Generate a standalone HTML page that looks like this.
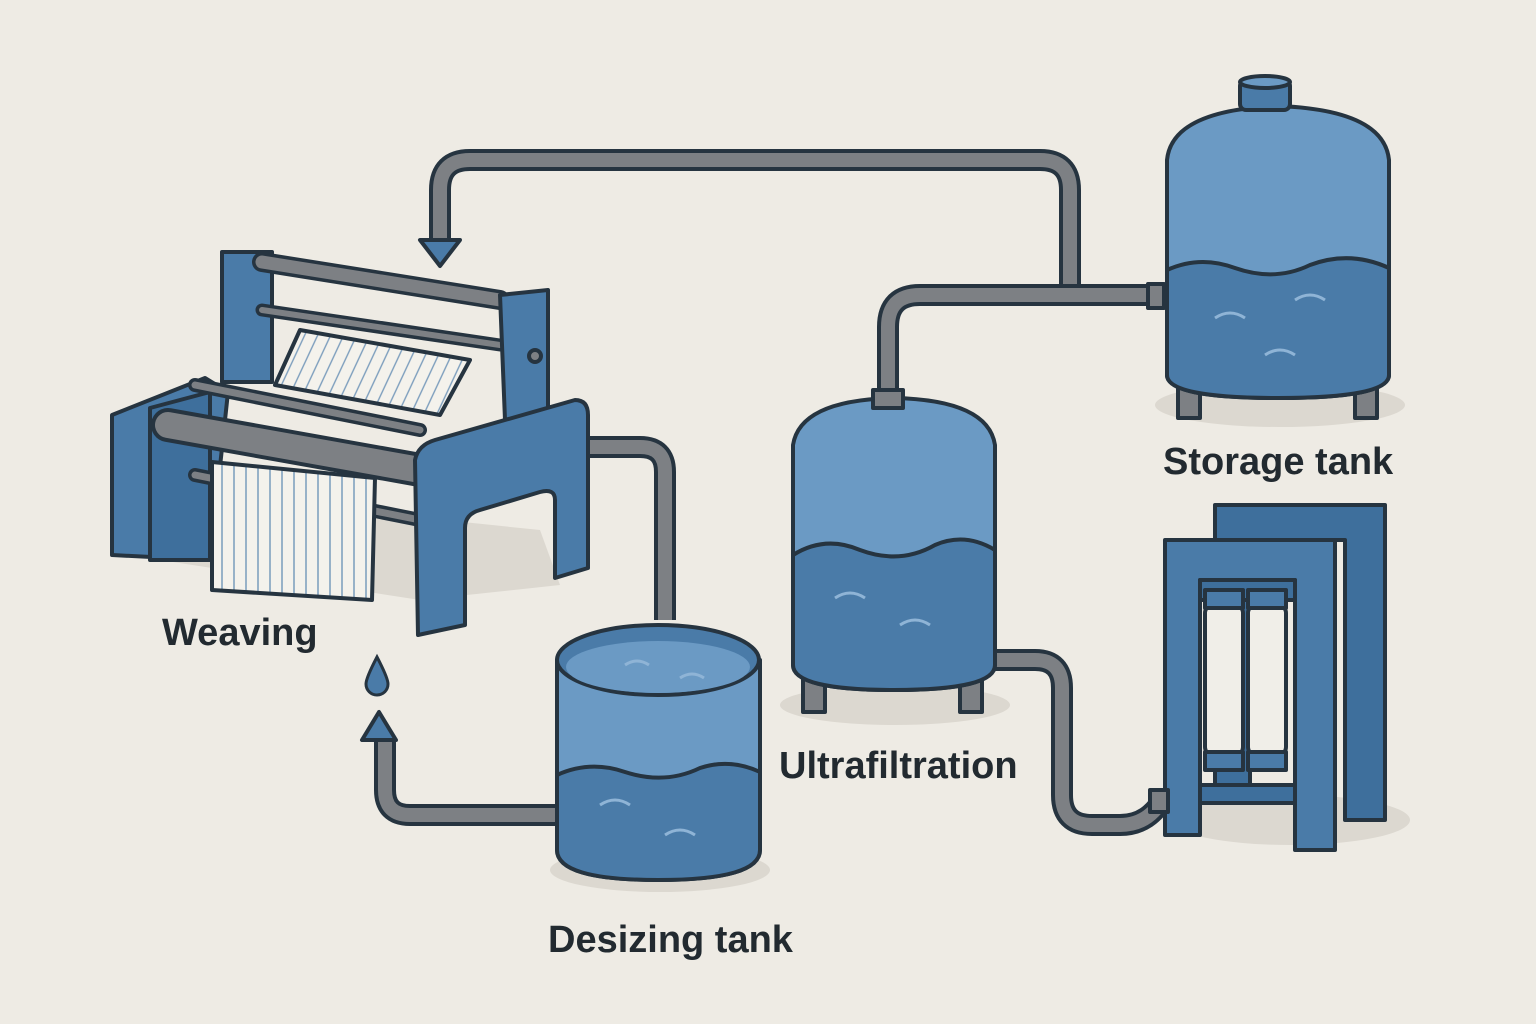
<!DOCTYPE html>
<html><head><meta charset="utf-8"><style>
html,body{margin:0;padding:0;background:#eeebe4;}
svg{display:block}
text{font-family:"Liberation Sans",sans-serif;font-weight:bold;fill:#222a30;}
</style></head><body>
<svg width="1536" height="1024" viewBox="0 0 1536 1024" xmlns="http://www.w3.org/2000/svg">
<defs>
<pattern id="stripes" width="12" height="10" patternUnits="userSpaceOnUse">
<rect width="12" height="10" fill="#f4f2ec"/><line x1="6" y1="0" x2="6" y2="10" stroke="#7a9cbc" stroke-width="1.5"/>
</pattern>
<pattern id="stripes2" width="13" height="10" patternUnits="userSpaceOnUse" patternTransform="skewX(-25)">
<rect width="13" height="10" fill="#f4f2ec"/><line x1="6" y1="0" x2="6" y2="10" stroke="#7a9cbc" stroke-width="1.5"/>
</pattern>
</defs>
<rect width="1536" height="1024" fill="#eeebe4"/>

<ellipse cx="1280" cy="405" rx="125" ry="22" fill="#dcd8d0"/>
<ellipse cx="895" cy="705" rx="115" ry="20" fill="#dcd8d0"/>
<ellipse cx="660" cy="870" rx="110" ry="22" fill="#dcd8d0"/>
<ellipse cx="1290" cy="820" rx="120" ry="25" fill="#dcd8d0"/>
<polygon points="160,560 420,600 560,585 540,530 250,500" fill="#dcd8d0"/>

<g fill="none" stroke-linecap="butt" stroke-linejoin="round">
<path d="M1160,295 H1070 V190 Q1070,160 1040,160 H470 Q440,160 440,190 V240" stroke="#263440" stroke-width="22"/>
<path d="M1160,295 H1070 V190 Q1070,160 1040,160 H470 Q440,160 440,190 V240" stroke="#7d8084" stroke-width="14"/>
<path d="M1160,295 H920 Q888,295 888,327 V395" stroke="#263440" stroke-width="22"/>
<path d="M1160,295 H920 Q888,295 888,327 V395" stroke="#7d8084" stroke-width="14"/>
<path d="M990,660 H1035 Q1062,660 1062,688 V795 Q1062,825 1092,825 H1120 Q1150,825 1165,795" stroke="#263440" stroke-width="22"/>
<path d="M990,660 H1035 Q1062,660 1062,688 V795 Q1062,825 1092,825 H1120 Q1150,825 1165,795" stroke="#7d8084" stroke-width="14"/>
<path d="M580,447 H640 Q665,447 665,472 V620" stroke="#263440" stroke-width="22"/>
<path d="M580,447 H640 Q665,447 665,472 V620" stroke="#7d8084" stroke-width="14"/>
<path d="M560,815 H410 Q385,815 385,790 V740" stroke="#263440" stroke-width="22"/>
<path d="M560,815 H410 Q385,815 385,790 V740" stroke="#7d8084" stroke-width="14"/>
</g>
<polygon points="420,240 460,240 440,266" fill="#4a7ba8" stroke="#263440" stroke-width="4" stroke-linejoin="round"/>
<polygon points="362,740 396,740 379,712" fill="#4a7ba8" stroke="#263440" stroke-width="4" stroke-linejoin="round"/>
<path d="M377,657 Q366,678 366,684 A11,11 0 0 0 388,684 Q388,678 377,657 Z" fill="#4a7ba8" stroke="#263440" stroke-width="3"/>

<!-- storage tank -->
<g stroke="#263440" stroke-width="4" stroke-linejoin="round">
<rect x="1178" y="370" width="22" height="48" fill="#7d8084"/>
<rect x="1355" y="370" width="22" height="48" fill="#7d8084"/>
<path d="M1167,160 Q1172,110 1278,106 Q1384,110 1389,160 V375 Q1389,398 1278,398 Q1167,398 1167,375 Z" fill="#6b9ac4"/>
<path d="M1167,270 Q1200,255 1235,268 Q1275,282 1310,265 Q1350,250 1389,268 V375 Q1389,398 1278,398 Q1167,398 1167,375 Z" fill="#4a7ba8"/>
<rect x="1240" y="80" width="50" height="30" rx="6" fill="#4a7ba8"/>
<ellipse cx="1265" cy="82" rx="25" ry="6" fill="#6b9ac4"/>
<rect x="1148" y="284" width="16" height="24" fill="#7d8084"/>
</g>
<path d="M1215,318 q15,-10 30,0 M1295,300 q15,-10 30,0 M1265,355 q15,-10 30,0" stroke="#8fb4d6" stroke-width="3" fill="none"/>

<!-- ultrafiltration tank -->
<g stroke="#263440" stroke-width="4" stroke-linejoin="round">
<rect x="803" y="670" width="22" height="42" fill="#7d8084"/>
<rect x="960" y="670" width="22" height="42" fill="#7d8084"/>
<path d="M793,445 Q800,400 894,398 Q988,400 995,445 V665 Q995,690 894,690 Q793,690 793,665 Z" fill="#6b9ac4"/>
<path d="M793,555 Q825,535 860,550 Q900,565 935,545 Q965,532 995,550 V665 Q995,690 894,690 Q793,690 793,665 Z" fill="#4a7ba8"/>
<rect x="873" y="390" width="30" height="18" fill="#7d8084"/>
</g>
<path d="M835,598 q15,-10 30,0 M900,625 q15,-10 30,0" stroke="#8fb4d6" stroke-width="3" fill="none"/>

<!-- desizing tank -->
<g stroke="#263440" stroke-width="4" stroke-linejoin="round">
<path d="M557,660 V850 Q557,880 658,880 Q760,880 760,850 V660 Z" fill="#6b9ac4"/>
<path d="M557,775 Q590,760 625,772 Q665,785 700,768 Q730,758 760,772 V850 Q760,880 658,880 Q557,880 557,850 Z" fill="#4a7ba8"/>
<ellipse cx="658" cy="660" rx="101" ry="35" fill="#4a7ba8"/>
<ellipse cx="658" cy="667" rx="92" ry="26" fill="#6b9ac4" stroke="none"/>
</g>
<path d="M625,665 q12,-8 24,0 M680,678 q12,-8 24,0 M600,805 q15,-10 30,0 M665,835 q15,-10 30,0" stroke="#8fb4d6" stroke-width="3" fill="none"/>

<!-- filter unit -->
<g stroke="#263440" stroke-width="4" stroke-linejoin="round">
<path d="M1215,505 H1385 V820 H1345 V540 H1250 V800 H1215 Z" fill="#3e6f9c"/>
<path d="M1165,540 H1335 V850 H1295 V580 H1200 V835 H1165 Z" fill="#4a7ba8"/>
<rect x="1200" y="580" width="95" height="20" fill="#3e6f9c"/>
<rect x="1205" y="605" width="38" height="150" rx="8" fill="#f0eee8"/>
<rect x="1248" y="605" width="38" height="150" rx="8" fill="#f0eee8"/>
<rect x="1205" y="590" width="38" height="18" fill="#4a7ba8"/>
<rect x="1248" y="590" width="38" height="18" fill="#4a7ba8"/>
<rect x="1205" y="752" width="38" height="18" fill="#4a7ba8"/>
<rect x="1248" y="752" width="38" height="18" fill="#4a7ba8"/>
<rect x="1200" y="785" width="95" height="18" fill="#3e6f9c"/>
<rect x="1150" y="790" width="18" height="22" fill="#7d8084"/>
</g>

<!-- loom -->
<g stroke="#263440" stroke-width="4" stroke-linejoin="round">
<polygon points="112,415 205,378 228,392 210,560 112,555" fill="#4a7ba8"/>
<polygon points="150,408 210,392 210,560 150,560" fill="#3e6f9c"/>
<rect x="222" y="252" width="50" height="130" fill="#4a7ba8"/>
<path d="M262,262 L500,300" stroke="#263440" stroke-width="20" stroke-linecap="round"/>
<path d="M262,262 L500,300" stroke="#7d8084" stroke-width="13" stroke-linecap="round"/>
<path d="M262,310 L500,345" stroke="#263440" stroke-width="13" stroke-linecap="round"/>
<path d="M262,310 L500,345" stroke="#7d8084" stroke-width="6" stroke-linecap="round"/>
<polygon points="300,330 470,360 440,415 275,385" fill="url(#stripes2)"/>
<polygon points="500,295 548,290 548,415 505,420" fill="#4a7ba8"/>
<circle cx="535" cy="356" r="6" fill="#7d8084"/>
<path d="M195,475 L420,520" stroke="#263440" stroke-width="14" stroke-linecap="round"/>
<path d="M195,475 L420,520" stroke="#7d8084" stroke-width="7" stroke-linecap="round"/>
<path d="M195,385 L420,430" stroke="#263440" stroke-width="14" stroke-linecap="round"/>
<path d="M195,385 L420,430" stroke="#7d8084" stroke-width="7" stroke-linecap="round"/>
<path d="M168,425 L420,470" stroke="#263440" stroke-width="34" stroke-linecap="round"/>
<path d="M168,425 L420,470" stroke="#7d8084" stroke-width="26" stroke-linecap="round"/>
<polygon points="212,462 375,478 372,600 212,590" fill="url(#stripes)"/>
<path d="M415,460 Q418,445 435,440 L575,400 Q588,400 588,415 V568 L555,578 V500 Q555,488 540,492 L480,510 Q465,514 465,528 V625 L418,635 Z" fill="#4a7ba8"/>
</g>

<text x="162" y="645" font-size="38">Weaving</text>
<text x="1163" y="474" font-size="38">Storage tank</text>
<text x="779" y="778" font-size="38">Ultrafiltration</text>
<text x="548" y="952" font-size="38">Desizing tank</text>
</svg>
</body></html>
